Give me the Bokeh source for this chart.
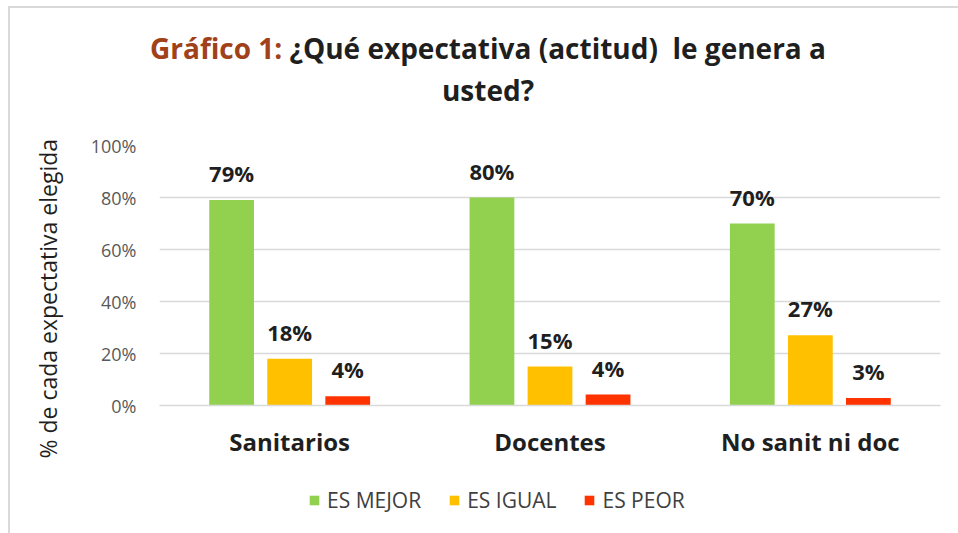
from bokeh.plotting import figure
from bokeh.layouts import column
from bokeh.models import (ColumnDataSource, LabelSet, Legend, LegendItem, Title, Div,
                          Range1d, FactorRange, NumeralTickFormatter, FixedTicker)
from bokeh.transform import dodge
from bokeh.core.properties import value
from bokeh.embed import file_html
from bokeh.resources import INLINE

# ---- data ----
categories = ["Sanitarios", "Docentes", "No sanit ni doc"]
series_names = ["ES MEJOR", "ES IGUAL", "ES PEOR"]
es_mejor = [0.79, 0.80, 0.70]
es_igual = [0.18, 0.15, 0.27]
es_peor = [0.036, 0.042, 0.029]
y_ticks = [0.0, 0.2, 0.4, 0.6, 0.8, 1.0]
title_prefix = "Gráfico 1:"
title_text = "¿Qué expectativa (actitud)&nbsp; le genera a<br>usted?"
y_title = "% de cada expectativa elegida"

colors = ["#92d050", "#ffc000", "#ff3300"]
FONT = "Open Sans"
DARK = "#1f1f1f"
BORDER = "#d9d9d9"

title_div = Div(
    text=(f'<div style="position:absolute; left:8px; top:6px; width:960px; height:540px; '
          f'box-sizing:border-box; border-top:2px solid {BORDER}; border-left:2px solid {BORDER}; '
          f'pointer-events:none; z-index:10;"></div>'
          f'<div style="width:958px; box-sizing:border-box; padding:27px 0 0 18px; '
          f'text-align:center; font-family:\'{FONT}\'; font-weight:bold; font-size:28px; '
          f'line-height:42px; color:{DARK};">'
          f'<span style="color:#a0411a">{title_prefix}</span> {title_text}</div>'),
    width=958, height=120, margin=(0, 0, 0, 0), styles={"overflow": "visible", "z-index": "10"})

p = figure(width=958, height=350, output_backend="svg", toolbar_location=None,
           x_range=FactorRange(*categories, range_padding=0), y_range=Range1d(0, 1),
           min_border_left=159, min_border_right=18, min_border_top=25, min_border_bottom=65,
           outline_line_color=None, background_fill_color="white", border_fill_color="white",
           margin=(0, 0, 0, 0))

offsets = [-0.223, 0.0, 0.223]
bar_w = 0.172
series_values = [es_mejor, es_igual, es_peor]
for name, vals, col, off in zip(series_names, series_values, colors, offsets):
    src = ColumnDataSource(dict(cat=categories, val=vals,
                                lbl=[f"{round(v * 100)}%" for v in vals]))
    p.vbar(x=dodge("cat", off, range=p.x_range), top="val", width=bar_w, source=src,
           fill_color=col, line_color=None)
    labels = LabelSet(x=dodge("cat", off, range=p.x_range), y="val", text="lbl", source=src,
                      y_offset=12, text_align="center", text_baseline="bottom",
                      text_font=value(FONT), text_font_style="bold", text_font_size="22px",
                      text_color=DARK)
    p.add_layout(labels)

# axes
p.yaxis.ticker = FixedTicker(ticks=y_ticks)
p.yaxis.formatter = NumeralTickFormatter(format="0%")
p.yaxis.axis_line_color = None
p.yaxis.major_tick_line_color = None
p.yaxis.minor_tick_line_color = None
p.yaxis.major_label_text_font = FONT
p.yaxis.major_label_text_font_size = "18px"
p.yaxis.major_label_text_color = "#595959"
p.yaxis.major_label_standoff = 17

p.xaxis.axis_line_color = BORDER
p.xaxis.axis_line_width = 1.5
p.xaxis.major_tick_line_color = None
p.xaxis.minor_tick_line_color = None
p.xaxis.major_label_text_font = FONT
p.xaxis.major_label_text_font_style = "bold"
p.xaxis.major_label_text_font_size = "24px"
p.xaxis.major_label_text_color = DARK
p.xaxis.major_label_standoff = 13

p.xgrid.grid_line_color = None
p.ygrid.grid_line_color = BORDER
p.ygrid.grid_line_width = 1.5

# y axis title (left side panel)
p.add_layout(Title(text=y_title, align="left", offset=-53, standoff=47,
                   text_font=FONT, text_font_style="normal", text_font_size="23px",
                   text_color=DARK), "left")

# legend strip (separate small canvas under the chart; proxy bars fall outside its view)
lg = figure(width=958, height=63, output_backend="svg", toolbar_location=None,
            x_range=FactorRange(*categories), y_range=Range1d(10, 11),
            x_axis_type=None, y_axis_type=None, min_border=0,
            outline_line_color=None, background_fill_color="white", border_fill_color="white",
            margin=(0, 0, 0, 0))
lg.xgrid.grid_line_color = None
lg.ygrid.grid_line_color = None
items = []
for name, vals, col in zip(series_names, series_values, colors):
    r = lg.vbar(x=categories, top=vals, width=0.1, fill_color=col, line_color=None)
    items.append(LegendItem(label=name, renderers=[r]))
legend = Legend(items=items, orientation="horizontal", location=(149, 19),
                padding=0, margin=0, spacing=27, label_standoff=7,
                glyph_width=12, glyph_height=12,
                label_text_font=FONT, label_text_font_size="21px", label_text_color="#404040",
                border_line_color=None, background_fill_alpha=0)
lg.add_layout(legend)

layout = column(title_div, p, lg, spacing=0)
open("out.html", "w").write(file_html(layout, INLINE))
